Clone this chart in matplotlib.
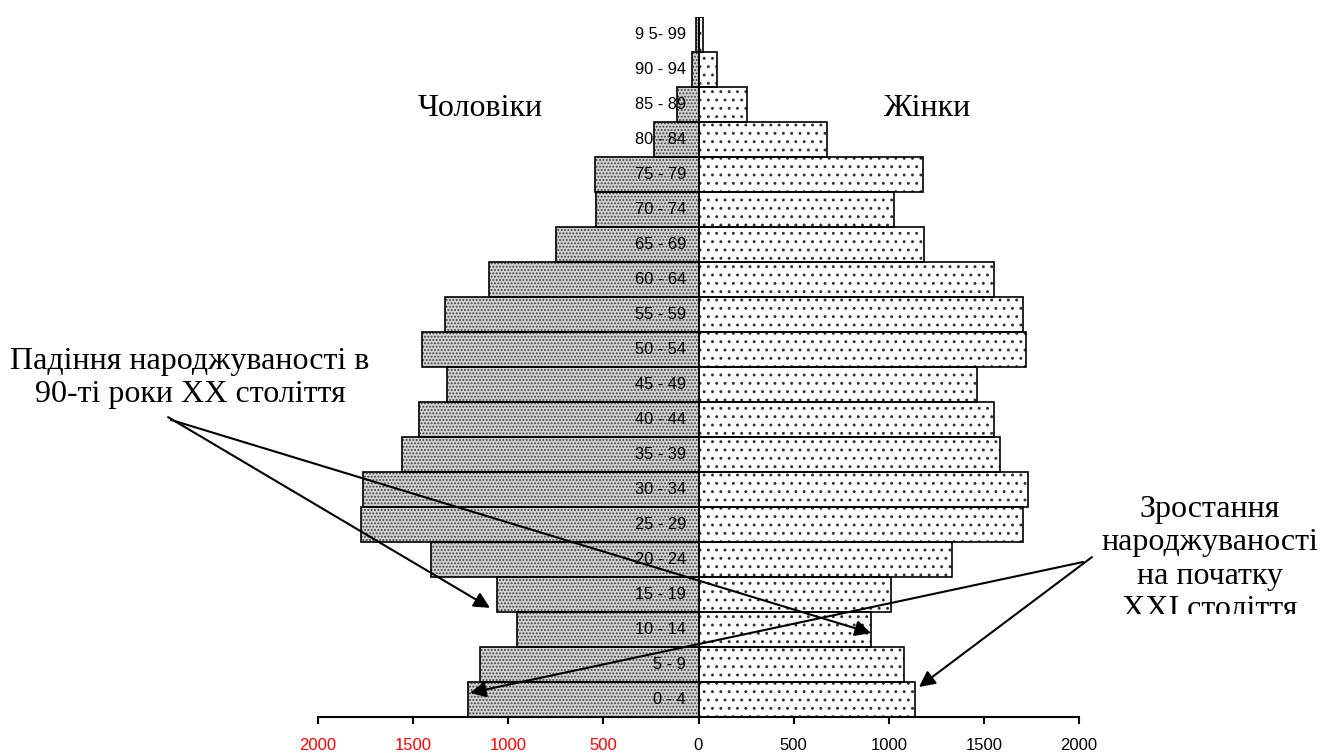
import matplotlib
matplotlib.use('Agg')
import matplotlib.pyplot as plt
from matplotlib.transforms import Bbox, TransformedBbox
import numpy as np

plt.rcParams['font.family'] = ['Liberation Sans', 'DejaVu Sans']
plt.rcParams['hatch.linewidth'] = 0.9

# age groups, bottom to top
ages = ['0 - 4', '5 - 9', '10 - 14', '15 - 19', '20 - 24', '25 - 29', '30 - 34',
        '35 - 39', '40 - 44', '45 - 49', '50 - 54', '55 - 59', '60 - 64',
        '65 - 69', '70 - 74', '75 - 79', '80 - 84', '85 - 89', '90 - 94', '9 5- 99']
men = [1212, 1148, 955, 1060, 1405, 1774, 1766, 1556, 1468, 1324,
       1454, 1333, 1099, 747, 538, 545, 232, 115, 33, 13]
women = [1139, 1081, 906, 1011, 1331, 1708, 1732, 1587, 1554, 1466,
         1724, 1706, 1554, 1186, 1025, 1179, 673, 256, 96, 25]

ticks = [-2000, -1500, -1000, -500, 0, 500, 1000, 1500, 2000]

# annotation arrows: (start, tip) in data units
fall_arrows = [((-2788, 8.06), (-1096, 2.61)),
               ((-2773, 7.98), (907, 1.89))]
rise_arrows = [((2021, 3.92), (-1201, 0.18)),
               ((2068, 4.06), (1159, 0.35))]

W, H = 1330, 753
fig = plt.figure(figsize=(W / 100, H / 100), dpi=100)
ax = fig.add_axes([318 / W, 1 - 716.7 / H, (1079 - 318) / W, 700 / H])

y = np.arange(len(ages))
men_x = -np.array(men)
women_x = np.array(women)

# fill + dot texture first, outlines on top
ax.barh(y, men_x, height=1.0, color='#d2d2d2', hatch='.....',
        edgecolor='#3c3c3c', linewidth=0, zorder=1)
ax.barh(y, women_x, height=1.0, color='white', hatch='..',
        edgecolor='#303030', linewidth=0, zorder=1)
ax.barh(y, men_x, height=1.0, fill=False, edgecolor='black', linewidth=1.2, zorder=2)
ax.barh(y, women_x, height=1.0, fill=False, edgecolor='black', linewidth=1.2, zorder=2)

for i, lab in enumerate(ages):
    ax.annotate(lab, xy=(0, i), xytext=(-9, 0), textcoords='offset points',
                ha='right', va='center', fontsize=11.8, zorder=3)

ax.set_xlim(-2000, 2000)
ax.set_ylim(-0.5, len(ages) - 0.5)
ax.set_xticks(ticks)
ax.set_xticklabels([str(abs(t)) for t in ticks], fontsize=12)
for t, lab in zip(ticks, ax.get_xticklabels()):
    lab.set_color('red' if t < 0 else 'black')
ax.tick_params(axis='x', direction='out', length=5, width=1.5, pad=10)
ax.set_yticks([])
for s in ['top', 'left', 'right']:
    ax.spines[s].set_visible(False)
ax.spines['bottom'].set_linewidth(1.5)
ax.patch.set_visible(False)

serif = ['Liberation Serif', 'DejaVu Serif']
fs = 23
fig.text(480 / W, 1 - 116 / H, 'Чоловіки', family=serif, fontsize=fs,
         ha='center', va='baseline')
fig.text(927 / W, 1 - 116 / H, 'Жінки', family=serif, fontsize=fs,
         ha='center', va='baseline')
fig.text(190 / W, 1 - 402 / H, 'Падіння народжуваності в\n90-ті роки ХХ століття',
         family=serif, fontsize=fs, ha='center', va='baseline',
         multialignment='center', linespacing=1.2)
rise = fig.text(1210 / W, 1 - 617 / H,
                'Зростання\nнароджуваності\nна початку\nXXI століття',
                family=serif, fontsize=fs, ha='center', va='baseline',
                multialignment='center', linespacing=1.2)
# the last line is cut off at the bottom of its box
rise.set_clip_box(TransformedBbox(Bbox([[1040 / W, 1 - 614 / H], [1.0, 1.0]]),
                                  fig.transFigure))

for start, tip in fall_arrows + rise_arrows:
    ax.annotate('', xy=tip, xytext=start, annotation_clip=False,
                arrowprops=dict(arrowstyle='-|>', color='black', lw=1.5,
                                mutation_scale=24, shrinkA=0, shrinkB=0))

fig.savefig('out.png', dpi=100)
